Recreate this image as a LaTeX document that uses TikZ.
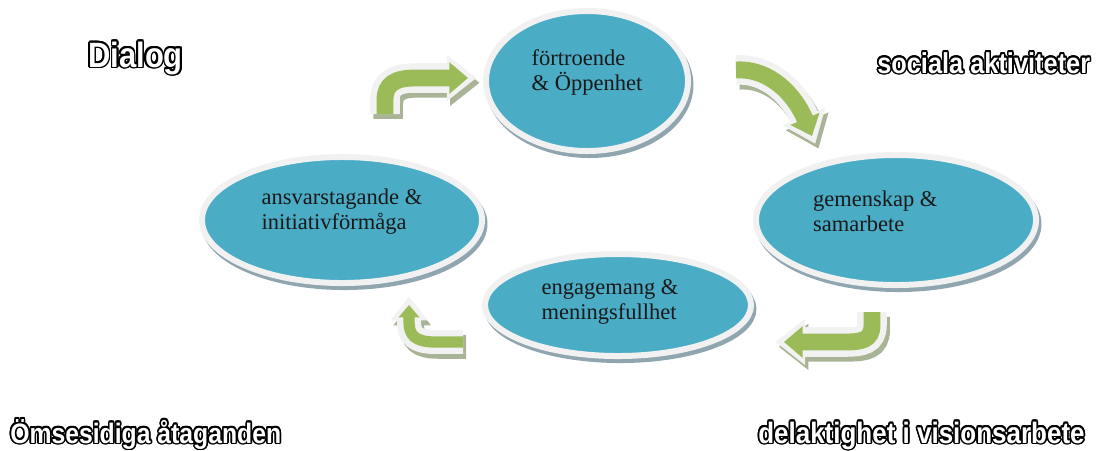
\documentclass[tikz,border=0pt]{standalone}
\usepackage{fontspec}
\usepackage{contour}
\usepackage{tikz}
\usetikzlibrary{arrows.meta,positioning,shapes.geometric}

\setmainfont{Liberation Serif}
\newfontfamily\cornerfont{Liberation Sans Bold}[FakeStretch=0.88]
\contourlength{1.1pt}

\definecolor{bubblefill}{HTML}{4BACC6}
\definecolor{ringwhite}{HTML}{F1F1F1}
\definecolor{bubbleshade}{HTML}{8FA5AF}
\definecolor{arrowgreen}{HTML}{9BBB59}
\definecolor{arrowwhite}{HTML}{F2F2F2}
\definecolor{arrowshade}{HTML}{A9B395}

\begin{document}
\begin{tikzpicture}[x=0.025cm, y=-0.025cm,
    bubble/.style={ellipse, inner sep=0pt, fill=bubblefill, draw=ringwhite,
      line width=0.15cm,
      preaction={fill=bubbleshade, draw=bubbleshade, line width=0.15cm,
        transform canvas={shift={(0.06cm,-0.1cm)}}}},
    bubbletext/.style={align=left, inner sep=0pt, text=black!90,
      font=\fontsize{16}{17.8}\selectfont},
    corner/.style={anchor=base west, inner sep=0pt, text=white},
    flow/.style={draw=arrowgreen, line width=#1,
      -{Triangle[length=0pt 1.1, width=0pt 1.8]},
      preaction={draw=arrowshade, line width=#1+9pt, shorten >=-6pt,
        -{Triangle[length=0pt 1.0, width=0pt 1.5]},
        transform canvas={shift={(0.08cm,-0.12cm)}}},
      preaction={draw=arrowwhite, line width=#1+9pt, shorten >=-6pt,
        -{Triangle[length=0pt 1.0, width=0pt 1.5]}}}]
  \useasboundingbox (0,0) rectangle (1099,450);

  % the four bubbles
  \node[bubble, minimum width=5.05cm, minimum height=3.5cm] (trust) at (587,81) {};
  \node[bubble, minimum width=7.0cm, minimum height=3.15cm] (resp) at (342,220) {};
  \node[bubble, minimum width=7.0cm, minimum height=3.25cm] (comm) at (896,220) {};
  \node[bubble, minimum width=6.65cm, minimum height=2.55cm] (engage) at (618,305) {};

  \node[bubbletext] (trusttext) at ([yshift=0.22cm]trust.center) {förtroende\\\& Öppenhet};
  \node[bubbletext] (resptext) at ([yshift=0.2cm]resp.center) {ansvarstagande \&\\initiativförmåga};
  \node[bubbletext] (commtext) at ([xshift=-0.52cm, yshift=0.22cm]comm.center) {gemenskap \&\\samarbete};
  \node[bubbletext] (engagetext) at ([xshift=-0.2cm, yshift=0.08cm]engage.center) {engagemang \&\\meningsfullhet};

  % bent arrows between the bubbles
  \coordinate (f1s) at (385,114);
  \coordinate (f1e) at (468,78);
  \coordinate (f2s) at (736,70);
  \coordinate (f2e) at (812,136);
  \coordinate (f3s) at (872,312);
  \coordinate (f3e) at (784,342);
  \coordinate (f4s) at (463,342);
  \coordinate (f4e) at (409,305);
  \draw[flow=12pt] (f1s) -- (385,100) .. controls (385,84) and (395,78) .. (415,78) -- (f1e);
  \draw[flow=12pt] (f2s) .. controls (770,68) and (795,95) .. (f2e);
  \draw[flow=12pt] (f3s) -- (872,325) .. controls (872,340) and (862,342) .. (845,342) -- (f3e);
  \draw[flow=8pt] (f4s) -- (435,342) .. controls (415,342) and (409,335) .. (409,322) -- (f4e);

  % corner captions
  \node[corner, font=\cornerfont\fontsize{25}{30}\selectfont] (dialog) at (88,67) {\contour{black}{Dialog}};
  \node[corner, font=\cornerfont\fontsize{20.5}{24}\selectfont] (social) at (877,73) {\contour{black}{sociala aktiviteter}};
  \node[corner, font=\cornerfont\fontsize{20}{24}\selectfont] (mutual) at (10,443) {\contour{black}{Ömsesidiga åtaganden}};
  \node[corner, font=\cornerfont\fontsize{21}{24}\selectfont] (vision) at (758,443) {\contour{black}{delaktighet i visionsarbete}};
\end{tikzpicture}
\end{document}
